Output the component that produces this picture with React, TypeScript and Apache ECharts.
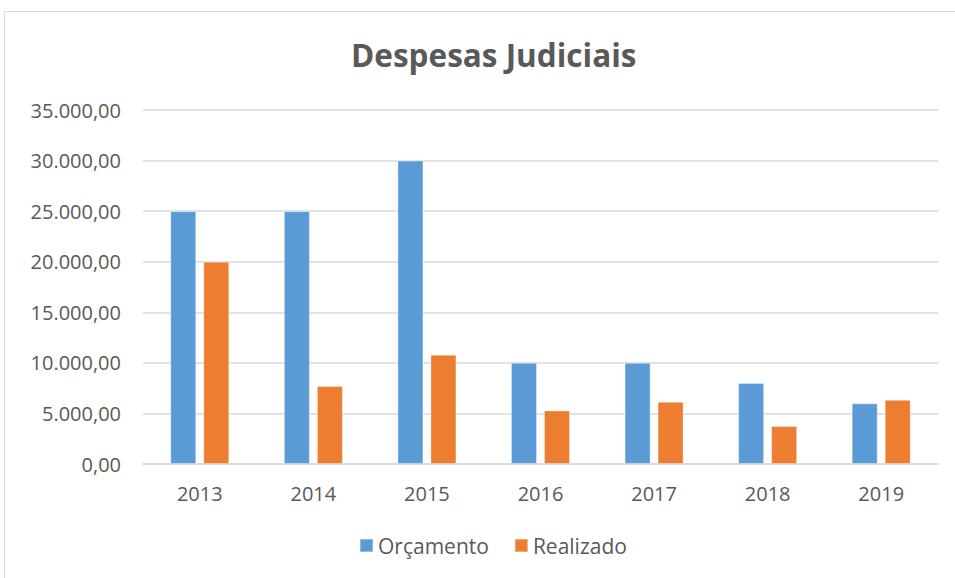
import React, { useEffect, useRef } from "react";
import * as echarts from "echarts";

const categories = ["2013", "2014", "2015", "2016", "2017", "2018", "2019"];
const orcamento = [25000, 25000, 30000, 10000, 10000, 8000, 6000];
const realizado = [20000, 7700, 10800, 5300, 6150, 3750, 6350];

function fmt(v: number): string {
  const s = Math.round(v).toString().replace(/\B(?=(\d{3})+(?!\d))/g, ".");
  return s + ",00";
}

export default function App() {
  const ref = useRef<HTMLDivElement>(null);
  useEffect(() => {
    if (!ref.current) return;
    const chart = echarts.init(ref.current, undefined, { renderer: "svg" });
    const font = "'Open Sans', Calibri, sans-serif";
    chart.setOption({
      animation: false,
      backgroundColor: "#ffffff",
      title: {
        text: "Despesas Judiciais",
        left: 346,
        top: 33,
        textStyle: { fontFamily: font, fontSize: 31.5, fontWeight: "bold", color: "#595959" },
      },
      graphic: [
        {
          type: "rect",
          shape: { x: 4.5, y: 11.5, width: 970, height: 600 },
          style: { fill: "none", stroke: "#d9d9d9", lineWidth: 1 },
          silent: true,
        },
      ],
      legend: {
        bottom: 17,
        left: 354,
        itemWidth: 13,
        itemHeight: 13,
        itemGap: 25,
        icon: "rect",
        textStyle: { fontFamily: font, fontSize: 21, color: "#595959" },
        data: ["Orçamento", "Realizado"],
      },
      grid: { left: 143, right: 17, top: 110, bottom: 114 },
      xAxis: {
        type: "category",
        data: categories,
        axisLine: { lineStyle: { color: "#d9d9d9", width: 1.5 } },
        axisTick: { show: false },
        axisLabel: { fontFamily: font, fontSize: 20, color: "#595959", margin: 19 },
      },
      yAxis: {
        type: "value",
        min: 0,
        max: 35000,
        interval: 5000,
        axisLine: { show: false },
        axisTick: { show: false },
        splitLine: { lineStyle: { color: "#d9d9d9", width: 1.5 } },
        axisLabel: {
          fontFamily: font,
          fontSize: 20,
          color: "#595959",
          margin: 22,
          formatter: (v: number) => fmt(v),
        },
      },
      series: [
        {
          name: "Orçamento",
          type: "bar",
          data: orcamento,
          barWidth: 26,
          barGap: "27%",
          itemStyle: { color: "#5B9BD5", borderColor: "rgba(255,255,255,0.35)", borderWidth: 1 },
        },
        {
          name: "Realizado",
          type: "bar",
          data: realizado,
          barWidth: 26,
          itemStyle: { color: "#ED7D31", borderColor: "rgba(255,255,255,0.35)", borderWidth: 1 },
        },
      ],
    });
    return () => chart.dispose();
  }, []);
  return <div ref={ref} style={{ width: 955, height: 578, position: "absolute", left: 0, top: 0 }} />;
}
